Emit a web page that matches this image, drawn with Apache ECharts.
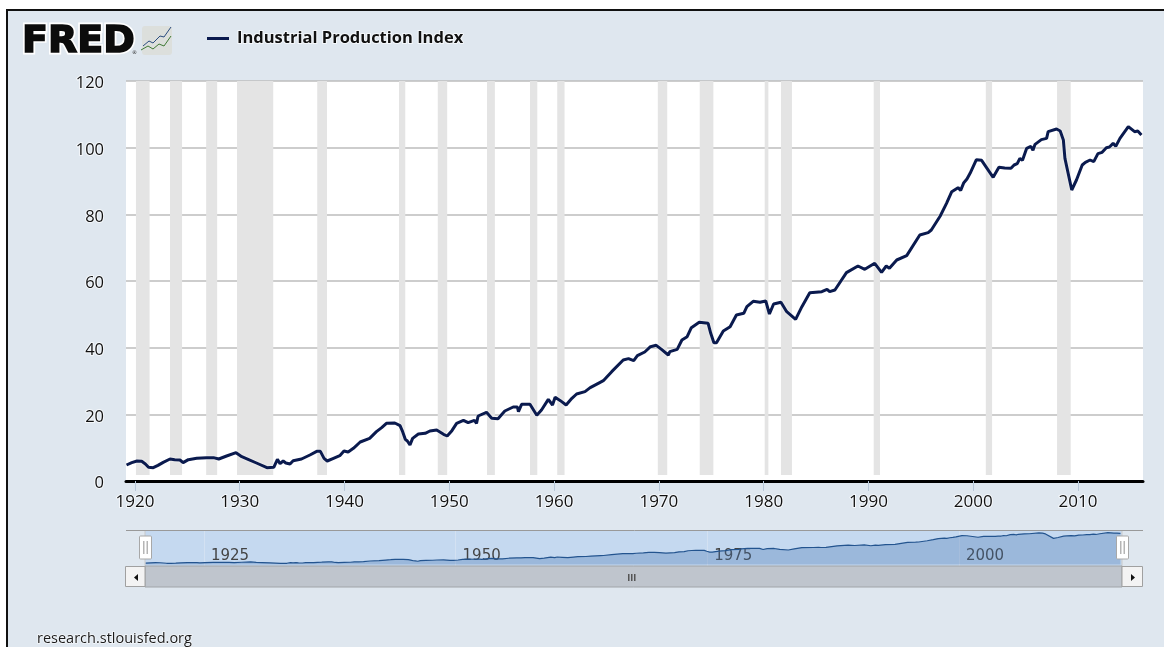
<!DOCTYPE html>
<html>
<head>
<meta charset="utf-8">
<title>Industrial Production Index</title>
<script src="https://cdn.jsdelivr.net/npm/echarts@6/dist/echarts.min.js"></script>
<style>
html, body { margin: 0; padding: 0; background: #fff; overflow: hidden; }
#panel { position: absolute; left: 6px; top: 9px; width: 1158px; height: 638px; background: #dfe7ef; border-left: 2px solid #111; border-top: 2px solid #111; box-sizing: border-box; }
#chart { position: absolute; left: 0; top: 0; width: 1164px; height: 647px; }
</style>
</head>
<body>
<div id="panel"></div>
<div id="chart"></div>
<script>
// values
var years = [1919.2,1919.7,1920.2,1920.65,1921,1921.3,1921.75,1922.2,1922.7,1923.35,1923.8,1924.3,1924.6,1925.1,1925.9,1926.85,1927.5,1928,1928.75,1929.65,
    1930.2,1930.8,1931.6,1932.6,1933.25,1933.6,1933.85,1934.15,1934.4,1934.8,1935.1,1935.9,1936.7,1937.35,1937.7,1938.05,1938.35,1938.95,1939.55,1939.95,
    1940.35,1940.85,1941.5,1942.4,1943.05,1943.55,1944,1944.8,1945.3,1945.55,1945.8,1946,1946.25,1946.5,1947.05,1947.7,1948.15,1948.8,1949.45,1949.8,
    1950.25,1950.7,1951.35,1951.8,1952.4,1952.6,1952.75,1953.55,1954.05,1954.65,1955.3,1956.1,1956.5,1956.6,1956.9,1957.7,1958.35,1958.8,1959.45,1959.85,
    1960.1,1960.6,1961.15,1961.7,1962.15,1962.95,1963.45,1964.4,1964.7,1965.5,1966.6,1967.1,1967.6,1967.95,1968.65,1969.2,1969.75,1970.25,1970.9,1971.05,
    1971.75,1972.2,1972.7,1973.1,1973.85,1974.7,1974.95,1975.25,1975.5,1976.15,1976.8,1977.4,1978.1,1978.4,1979,1979.65,1980.2,1980.55,1980.95,1981.65,
    1982.2,1983.05,1983.65,1984.4,1985.55,1986.05,1986.3,1986.8,1987.9,1989,1989.65,1990.6,1991.25,1991.7,1992,1992.7,1993.65,1994.9,1995.7,1996,
    1996.85,1997.45,1997.95,1998.1,1998.55,1998.8,1999.1,1999.4,1999.7,2000.3,2000.8,2001.9,2002.45,2003,2003.6,2003.9,2004.2,2004.45,2004.7,2005.1,2005.5,2005.7,2005.9,2006.5,2007,2007.15,2007.95,2008.3,2008.6,2008.75,
    2009.4,2009.85,2010.4,2010.7,2011.15,2011.5,2011.9,2012.3,2012.7,2013,2013.35,2013.6,2014,2014.8,2015.4,2015.7,2016.05];
var ipIndex = [4.8,5.5,6,5.9,5.1,4.1,4,4.7,5.6,6.6,6.4,6.3,5.5,6.4,6.8,7,7,6.6,7.5,8.5,
    7.3,6.5,5.4,4,4.1,6.5,5.2,6,5.4,5.1,6.1,6.6,7.8,8.9,8.9,6.8,6,6.8,7.6,9,
    8.7,9.8,11.7,12.8,14.8,16,17.3,17.4,16.6,14.8,12.5,12,10.8,12.8,14.1,14.3,15,15.3,14,13.5,
    15.1,17.3,18.2,17.5,18.2,17.3,19.5,20.6,18.8,18.7,21,22.2,22.2,20.8,23,23,19.7,21.3,24.5,22.8,
    25.1,24.1,22.8,24.8,26.1,26.8,28,29.6,30.1,32.8,36.3,36.7,36.1,37.6,38.7,40.3,40.7,39.5,37.8,38.8,
    39.5,42.3,43.3,46,47.6,47.3,44.3,41.5,41.5,45,46.3,49.8,50.3,52.3,53.9,53.6,54,50.1,53.1,53.6,
    50.8,48.5,52.3,56.5,56.8,57.5,56.8,57.3,62.5,64.5,63.5,65.3,62.6,64.5,63.8,66.3,67.6,73.8,74.5,75.3,
    79.5,83.3,86.8,86.5,88,87.2,89.5,90.6,92.3,96.4,96.2,91.1,94.1,93.9,93.8,94.8,95.2,96.8,96.2,99.8,100.4,99.2,101,102.4,102.8,104.8,105.6,105,102.3,96.8,
    87.3,90.3,94.8,95.6,96.3,95.8,98.2,98.6,100,100.2,101.3,100.4,102.8,106.3,104.8,105,103.8];
var recessionStart = [1920.1,1923.35,1926.8,1929.74,1937.4,1945.2,1948.9,1953.6,1957.7,1960.3,1969.9,1973.9,1980.1,1981.65,1990.5,2001.2,2008.0];
var recessionEnd = [1921.4,1924.5,1927.85,1933.2,1938.33,1945.8,1949.8,1954.35,1958.4,1961.0,1970.8,1975.2,1980.45,1982.7,1991.1,2001.8,2009.3];
var decadeTicks = [1920,1930,1940,1950,1960,1970,1980,1990,2000,2010];
var navTicks = [1925,1950,1975,2000];

var seriesName = 'Industrial Production Index';
var uiFont = '"Open Sans", sans-serif';
var xMin = 1919.15, xMax = 2016.2;

var lineData = years.map(function (y, i) { return [y, ipIndex[i]]; });
var bands = recessionStart.map(function (s, i) {
    return [{ xAxis: s, yAxis: 1.8 }, { xAxis: recessionEnd[i], yAxis: 120 }];
});

// navigator handle, x is its left edge
function navHandle(x) {
    return [
        { type: 'rect', z: 100, shape: { x: x, y: 536, width: 12, height: 23, r: 1 }, style: { fill: '#fff', stroke: '#a8a8a8', lineWidth: 1 } },
        { type: 'rect', z: 101, shape: { x: x + 3.5, y: 541, width: 1.5, height: 13 }, style: { fill: '#b5b5b5' } },
        { type: 'rect', z: 101, shape: { x: x + 7, y: 541, width: 1.5, height: 13 }, style: { fill: '#b5b5b5' } }
    ];
}

var decor = [
    // FRED logo, white halo below and a thickened black layer on top
    { type: 'text', z: 49, style: { x: 22, y: 23, text: 'FRED', font: 'bold 38px "DejaVu Sans"', fill: '#0c0c0c', stroke: '#fff', lineWidth: 5 } },
    { type: 'text', z: 50, style: { x: 22, y: 23, text: 'FRED', font: 'bold 38px "DejaVu Sans"', fill: '#0c0c0c', stroke: '#0c0c0c', lineWidth: 1.6 } },
    { type: 'text', z: 50, style: { x: 132, y: 50, text: '®', font: '5px "DejaVu Sans"', fill: '#222' } },
    { type: 'rect', z: 50, shape: { x: 142, y: 26, width: 30, height: 29, r: 3 }, style: { fill: '#dcdfdc' } },
    { type: 'polyline', z: 51, shape: { points: [[143,46],[149,41],[153,43],[160,36],[164,37],[171,27]] }, style: { fill: 'none', stroke: '#2a4c7f', lineWidth: 1 } },
    { type: 'polyline', z: 51, shape: { points: [[141,50],[148,46],[153,49],[159,44],[164,46],[171,36]] }, style: { fill: 'none', stroke: '#3f7a35', lineWidth: 1 } },
    // navigator frame
    { type: 'line', z: 60, shape: { x1: 126, y1: 530.5, x2: 1143, y2: 530.5 }, style: { stroke: '#999', lineWidth: 1 } },
    { type: 'line', z: 60, shape: { x1: 145, y1: 531, x2: 145, y2: 566 }, style: { stroke: '#c9c9c9', lineWidth: 1 } },
    { type: 'line', z: 60, shape: { x1: 1122, y1: 531, x2: 1122, y2: 566 }, style: { stroke: '#c9c9c9', lineWidth: 1 } },
    // scrollbar
    { type: 'rect', z: 60, shape: { x: 145, y: 566, width: 977, height: 21 }, style: { fill: '#bfc5cd', stroke: '#a0a4a8', lineWidth: 1 } },
    { type: 'rect', z: 61, shape: { x: 125.5, y: 566.5, width: 19.5, height: 20 }, style: { fill: '#f3f3f3', stroke: '#a0a0a0', lineWidth: 1 } },
    { type: 'rect', z: 61, shape: { x: 1122, y: 566.5, width: 20.5, height: 20 }, style: { fill: '#f3f3f3', stroke: '#a0a0a0', lineWidth: 1 } },
    { type: 'polygon', z: 62, shape: { points: [[138,574],[138,581],[134,577.5]] }, style: { fill: '#111' } },
    { type: 'polygon', z: 62, shape: { points: [[1131,574],[1131,581],[1135,577.5]] }, style: { fill: '#111' } },
    { type: 'rect', z: 62, shape: { x: 628, y: 574, width: 1.5, height: 7 }, style: { fill: '#555' } },
    { type: 'rect', z: 62, shape: { x: 631, y: 574, width: 1.5, height: 7 }, style: { fill: '#555' } },
    { type: 'rect', z: 62, shape: { x: 634, y: 574, width: 1.5, height: 7 }, style: { fill: '#555' } },
    // source
    { type: 'text', z: 50, style: { x: 37, y: 631, text: 'research.stlouisfed.org', font: '14.5px ' + uiFont, fill: '#1a1a1a', stroke: '#f5f8fb', lineWidth: 1.5 } }
].concat(navHandle(139.5), navHandle(1116.5));

var option = {
    animation: false,
    graphic: { elements: decor },
    legend: {
        data: [seriesName],
        left: 202,
        top: 24,
        icon: 'rect',
        itemWidth: 22,
        itemHeight: 3,
        textStyle: {
            fontFamily: uiFont,
            fontWeight: 'bold',
            fontSize: 16.5,
            color: '#111',
            padding: [0, 0, 0, 3],
            textBorderColor: '#f5f8fb',
            textBorderWidth: 2
        }
    },
    grid: [
        { left: 126, top: 81, width: 1017, height: 400, show: true, backgroundColor: '#fff', borderWidth: 0 },
        { left: 145, top: 531, width: 977, height: 35, show: true, backgroundColor: '#c5d9f0', borderWidth: 0 }
    ],
    xAxis: [
        {
            type: 'value',
            gridIndex: 0,
            min: xMin,
            max: xMax,
            splitLine: { show: false },
            axisLine: { lineStyle: { color: '#000', width: 3 } },
            axisTick: { customValues: decadeTicks, length: 10, lineStyle: { color: '#b9c8d8' } },
            axisLabel: {
                customValues: decadeTicks,
                margin: 13,
                fontFamily: uiFont,
                fontSize: 17,
                color: '#111',
                formatter: function (v) { return String(v); },
                textBorderColor: '#f5f8fb',
                textBorderWidth: 2
            }
        },
        {
            type: 'value',
            gridIndex: 1,
            min: xMin,
            max: xMax,
            axisLine: { show: false },
            axisTick: { show: false, customValues: navTicks },
            splitLine: { show: true, lineStyle: { color: '#d3e1f2', width: 1 } },
            axisLabel: {
                customValues: navTicks,
                inside: true,
                margin: 2,
                align: 'left',
                padding: [0, 0, 0, 7],
                fontFamily: '"DejaVu Sans", sans-serif',
                fontSize: 15,
                color: '#444',
                formatter: function (v) { return String(v); }
            }
        }
    ],
    yAxis: [
        {
            type: 'value',
            gridIndex: 0,
            min: 0,
            max: 120,
            interval: 20,
            axisLine: { show: false },
            axisTick: { show: false },
            splitLine: { lineStyle: { color: '#bdbdbd', width: 1.5 } },
            axisLabel: {
                margin: 22,
                formatter: '{a|{value}}',
                rich: {
                    a: {
                        padding: [5, 0, 0, 0],
                        fontFamily: uiFont,
                        fontSize: 16.5,
                        color: '#111',
                        textBorderColor: '#f5f8fb',
                        textBorderWidth: 2
                    }
                }
            }
        },
        {
            type: 'value',
            gridIndex: 1,
            min: -5,
            max: 112,
            axisLine: { show: false },
            axisTick: { show: false },
            axisLabel: { show: false },
            splitLine: { show: false }
        }
    ],
    series: [
        {
            name: seriesName,
            type: 'line',
            xAxisIndex: 0,
            yAxisIndex: 0,
            data: lineData,
            showSymbol: false,
            symbol: 'none',
            itemStyle: { color: '#0a1a4e' },
            lineStyle: { color: '#0a1a4e', width: 3, shadowColor: 'rgba(255,255,255,0.9)', shadowBlur: 2 },
            markArea: {
                silent: true,
                itemStyle: { color: '#e4e4e4' },
                data: bands
            },
            z: 5
        },
        {
            name: 'navigator',
            type: 'line',
            xAxisIndex: 1,
            yAxisIndex: 1,
            data: lineData,
            showSymbol: false,
            symbol: 'none',
            lineStyle: { color: '#23548f', width: 1.2 },
            areaStyle: { color: 'rgba(69,115,175,0.46)' }
        }
    ]
};

var chart = echarts.init(document.getElementById('chart'), null, { renderer: 'canvas' });
chart.setOption(option);
</script>
</body>
</html>
